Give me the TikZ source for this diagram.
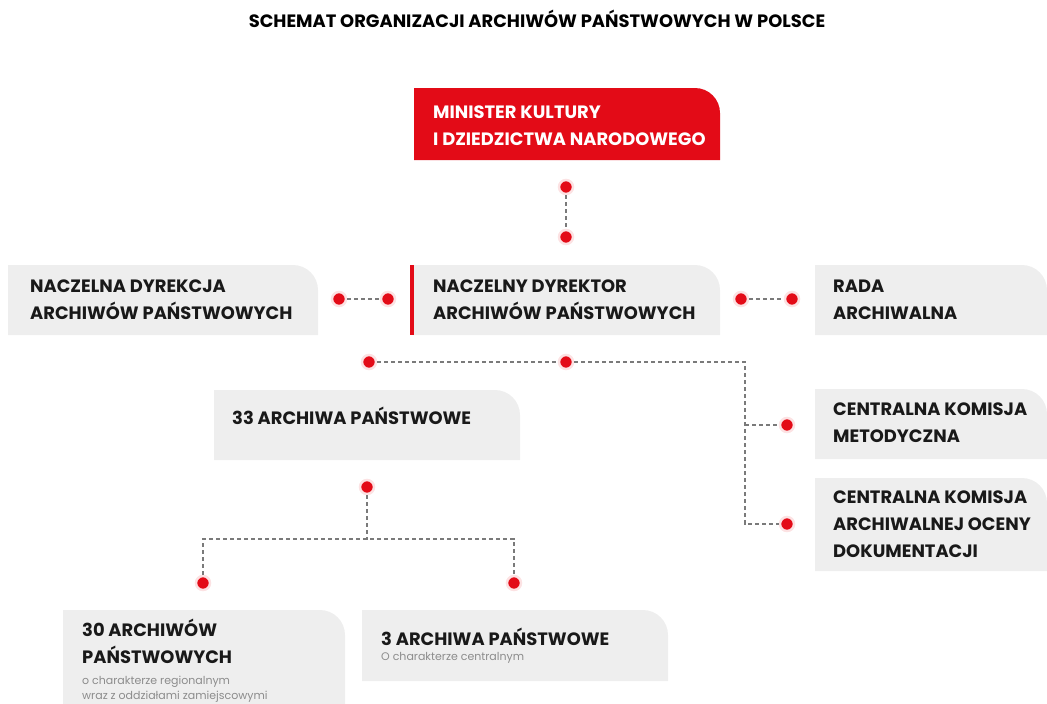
\documentclass[tikz,border=0pt]{standalone}
\usepackage{fontspec}
\setmainfont{Poppins}
\definecolor{archred}{HTML}{E30B17}
\definecolor{boxgray}{HTML}{EEEEEE}
\definecolor{linegray}{HTML}{7A7A7A}
\definecolor{subgray}{HTML}{8C8C8C}
\newcommand{\tabbox}[5]{\fill[#5] (#1,#2) -- (#3-25,#2) arc[start angle=-90,end angle=0,radius=25] -- (#3,#4) -- (#1,#4) -- cycle;}
\tikzset{
  dot/.style={circle,fill=archred,draw=archred!12,line width=2.5pt,inner sep=0pt,minimum size=14pt},
  link/.style={linegray,dashed,dash pattern=on 4pt off 3pt,line width=1.1pt},
  label/.style={anchor=north west,align=left,inner sep=0pt,font=\fontsize{17.9}{27}\selectfont\bfseries,text=black!90},
  note/.style={anchor=north west,align=left,inner sep=0pt,font=\fontsize{11}{15}\selectfont,text=subgray}
}
\begin{document}
\begin{tikzpicture}[x=1pt,y=-1pt]
        \useasboundingbox (0,0) rectangle (1047,704);
        \node[anchor=north,inner sep=0pt,font=\fontsize{17.9}{20}\selectfont\bfseries] (title) at (537,10) {SCHEMAT ORGANIZACJI ARCHIWÓW PAŃSTWOWYCH W POLSCE};
        \tabbox{414}{88}{720}{160}{archred}
        \tabbox{8}{265}{318}{335}{boxgray}
        \tabbox{412}{265}{720}{335}{boxgray}
        \fill[archred] (410,265) rectangle (414,335);
        \tabbox{815}{265}{1047}{335}{boxgray}
        \tabbox{214}{390}{520}{460}{boxgray}
        \tabbox{815}{389}{1047}{459}{boxgray}
        \tabbox{815}{478}{1047}{571}{boxgray}
        \tabbox{63}{610}{345}{704}{boxgray}
        \tabbox{362}{610}{668}{681}{boxgray}
        \node[label,text=white] (minister) at (433,106) {MINISTER KULTURY\\I DZIEDZICTWA NARODOWEGO};
        \node[label] (ndap) at (30,280) {NACZELNA DYREKCJA\\ARCHIWÓW PAŃSTWOWYCH};
        \node[label] (ndyr) at (433,280) {NACZELNY DYREKTOR\\ARCHIWÓW PAŃSTWOWYCH};
        \node[label] (rada) at (833,280) {RADA\\ARCHIWALNA};
        \node[label] (ap33) at (232,407) {33 ARCHIWA PAŃSTWOWE};
        \node[label] (ckm) at (833,403) {CENTRALNA KOMISJA\\METODYCZNA};
        \node[label] (ckaod) at (833,491) {CENTRALNA KOMISJA\\ARCHIWALNEJ OCENY\\DOKUMENTACJI};
        \node[label] (ap30) at (82,619) {30 ARCHIWÓW\\PAŃSTWOWYCH};
        \node[note] (ap30n) at (82,676) {o charakterze regionalnym\\wraz z oddziałami zamiejscowymi};
        \node[label] (ap3) at (381,628) {3 ARCHIWA PAŃSTWOWE};
        \node[note] (ap3n) at (381,652) {O charakterze centralnym};
        \node[dot] (m1) at (566,187) {};
        \node[dot] (m2) at (566,237) {};
        \node[dot] (l1) at (339,299) {};
        \node[dot] (l2) at (388,299) {};
        \node[dot] (r1) at (741,299) {};
        \node[dot] (r2) at (792,299) {};
        \node[dot] (b1) at (369,362) {};
        \node[dot] (b2) at (566,362) {};
        \node[dot] (k1) at (787,425) {};
        \node[dot] (k2) at (787,524) {};
        \node[dot] (a1) at (367,487) {};
        \node[dot] (a2) at (203,583) {};
        \node[dot] (a3) at (514,583) {};
        \coordinate (trunk) at (745,362);
        \coordinate (fork) at (367,539);
        \draw[link] (m1) -- (m2);
        \draw[link] (l1) -- (l2);
        \draw[link] (r1) -- (r2);
        \draw[link] (b1) -- (b2);
        \draw[link] (b2) -- (trunk) |- (k2);
        \draw[link] (trunk |- k1) -- (k1);
        \draw[link] (a1) -- (fork);
        \draw[link] (a2) |- (fork) -| (a3);
    \end{tikzpicture}
\end{document}
